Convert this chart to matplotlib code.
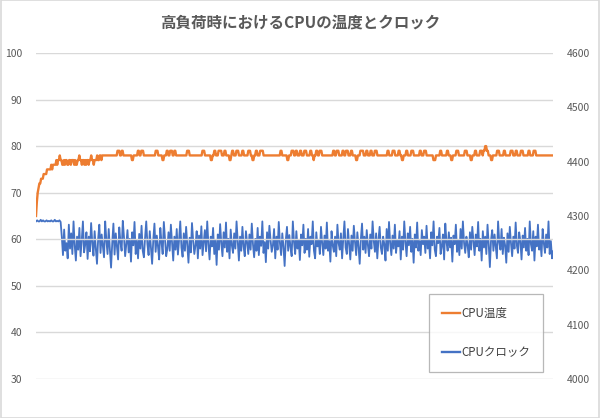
import numpy as np
import matplotlib
matplotlib.use("Agg")
import matplotlib.pyplot as plt

plt.rcParams['font.family'] = ['Noto Sans CJK JP', 'DejaVu Sans']

title = "高負荷時におけるCPUの温度とクロック"
label_temp = "CPU温度"
label_clock = "CPUクロック"

left_ticks = [30, 40, 50, 60, 70, 80, 90, 100]
right_ticks = [4000, 4100, 4200, 4300, 4400, 4500, 4600]

duration_s = 600

temp = [
    65, 68, 70, 71, 72, 72, 73, 73, 73, 74, 74, 74, 74, 75, 75, 75, 75, 75, 76, 75, 76, 76, 76, 76, 77, 76, 77, 77, 78, 77,
    77, 76, 76, 77, 76, 77, 77, 76, 76, 77, 77, 76, 77, 77, 77, 76, 77, 76, 76, 77, 77, 78, 77, 77, 76, 77, 77, 76, 77, 76,
    77, 77, 76, 77, 77, 78, 77, 77, 76, 77, 77, 77, 78, 77, 77, 78, 78, 77, 78, 78, 78, 78, 78, 78, 78, 78, 78, 78, 78, 78,
    78, 78, 78, 78, 78, 78, 79, 79, 79, 78, 78, 79, 79, 78, 78, 78, 78, 78, 78, 78, 78, 78, 78, 77, 77, 78, 78, 78, 78, 78,
    79, 79, 78, 78, 79, 79, 79, 78, 78, 78, 78, 78, 78, 78, 78, 78, 78, 78, 78, 78, 78, 79, 79, 79, 78, 78, 78, 78, 78, 77,
    77, 78, 78, 78, 79, 79, 78, 78, 79, 79, 79, 78, 78, 79, 79, 78, 78, 78, 78, 78, 78, 78, 78, 78, 78, 78, 78, 78, 79, 79,
    79, 78, 78, 78, 78, 78, 78, 78, 78, 78, 78, 78, 78, 78, 78, 78, 79, 79, 79, 78, 78, 78, 78, 78, 78, 78, 77, 77, 78, 78,
    79, 79, 78, 78, 78, 79, 79, 79, 79, 78, 78, 78, 79, 79, 78, 78, 78, 78, 77, 77, 78, 79, 79, 78, 78, 78, 79, 79, 79, 78,
    78, 78, 78, 79, 79, 78, 78, 78, 78, 78, 79, 79, 79, 78, 78, 77, 77, 78, 78, 79, 79, 78, 78, 78, 79, 79, 79, 79, 78, 78,
    78, 78, 78, 78, 78, 78, 78, 78, 78, 78, 78, 78, 78, 78, 78, 78, 78, 78, 79, 79, 78, 78, 78, 78, 78, 78, 77, 77, 78, 78,
    78, 79, 79, 79, 78, 78, 79, 79, 78, 78, 78, 79, 79, 78, 78, 78, 79, 79, 79, 78, 78, 78, 78, 79, 79, 78, 78, 77, 78, 78,
    79, 79, 78, 78, 79, 79, 79, 78, 78, 78, 78, 78, 78, 78, 78, 78, 78, 78, 78, 78, 79, 79, 78, 78, 79, 79, 79, 78, 78, 78,
    78, 79, 79, 78, 78, 79, 79, 79, 78, 78, 78, 79, 79, 78, 78, 78, 78, 77, 77, 78, 78, 78, 79, 79, 79, 79, 78, 78, 78, 79,
    79, 78, 78, 78, 79, 79, 78, 78, 78, 79, 79, 79, 78, 78, 78, 78, 78, 78, 78, 78, 78, 78, 78, 78, 79, 79, 78, 78, 78, 78,
    79, 79, 79, 78, 78, 78, 78, 79, 79, 78, 78, 77, 77, 78, 78, 78, 79, 79, 78, 78, 78, 78, 79, 79, 79, 78, 78, 78, 78, 78,
    78, 78, 79, 79, 78, 78, 78, 79, 79, 79, 78, 78, 78, 78, 78, 78, 78, 78, 77, 77, 77, 78, 78, 78, 78, 78, 79, 79, 78, 78,
    78, 78, 78, 78, 79, 79, 78, 78, 78, 77, 77, 78, 78, 78, 78, 79, 79, 79, 78, 78, 78, 78, 78, 78, 78, 79, 79, 79, 78, 78,
    78, 78, 77, 77, 78, 78, 78, 79, 79, 78, 78, 78, 78, 79, 79, 79, 78, 79, 79, 80, 80, 79, 79, 78, 78, 78, 77, 77, 78, 78,
    78, 78, 78, 79, 79, 79, 78, 78, 78, 78, 78, 79, 79, 78, 78, 78, 78, 78, 78, 79, 79, 79, 78, 78, 78, 79, 79, 78, 78, 78,
    78, 79, 79, 79, 78, 78, 78, 78, 78, 78, 79, 79, 78, 78, 78, 78, 79, 79, 79, 78, 78, 78, 78, 78, 78, 78, 78, 78, 78, 78,
    78, 78, 78, 78, 78, 78, 78, 78, 78, 78,
]

clock = [
    4290, 4292, 4290, 4290, 4293, 4290, 4292, 4290, 4290, 4292, 4290,
    4291, 4290, 4292, 4290, 4290, 4293, 4290, 4291, 4290, 4292, 4289,
    4262, 4228, 4275, 4236, 4250, 4222, 4284, 4240, 4268, 4230, 4290, 4246, 4218, 4262, 4238, 4278, 4226, 4255, 4290, 4233,
    4248, 4270, 4221, 4262, 4235, 4287, 4250, 4227, 4272, 4240, 4212, 4258, 4284, 4232, 4266, 4245, 4224, 4290, 4255, 4230,
    4276, 4238, 4205, 4250, 4286, 4229, 4268, 4244, 4220, 4279, 4252, 4236, 4291, 4262, 4226, 4248, 4274, 4233, 4258, 4216,
    4270, 4246, 4289, 4230, 4255, 4222, 4267, 4240, 4282, 4236, 4224, 4260, 4290, 4248, 4228, 4272, 4242, 4212, 4256, 4286,
    4234, 4264, 4244, 4220, 4278, 4252, 4230, 4289, 4258, 4226, 4240, 4270, 4236, 4284, 4250, 4218, 4262, 4238, 4276, 4229,
    4256, 4290, 4242, 4225, 4268, 4236, 4280, 4248, 4214, 4260, 4233, 4287, 4255, 4230, 4246, 4272, 4222, 4264, 4240, 4281,
    4228, 4252, 4274, 4235, 4290, 4248, 4220, 4262, 4244, 4278, 4230, 4256, 4210, 4266, 4238, 4285, 4250, 4226, 4270, 4242,
    4288, 4234, 4258, 4222, 4275, 4246, 4232, 4268, 4240, 4290, 4254, 4218, 4262, 4236, 4280, 4244, 4226, 4272, 4250, 4230,
    4266, 4238, 4286, 4248, 4224, 4258, 4236, 4278, 4228, 4262, 4245, 4290, 4232, 4252, 4215, 4270, 4240, 4282, 4256, 4234,
    4246, 4276, 4222, 4262, 4238, 4289, 4250, 4228, 4268, 4244, 4208, 4256, 4280, 4236, 4265, 4242, 4226, 4290, 4252, 4230,
    4272, 4240, 4255, 4219, 4266, 4246, 4284, 4232, 4258, 4238, 4276, 4225, 4262, 4248, 4290, 4236, 4222, 4270, 4244, 4256,
    4230, 4280, 4250, 4228, 4264, 4240, 4288, 4236, 4254, 4216, 4272, 4246, 4234, 4262, 4226, 4284, 4250, 4238, 4268, 4222,
    4258, 4290, 4242, 4230, 4276, 4248, 4220, 4264, 4236, 4282, 4252, 4228, 4270, 4244, 4212, 4258, 4286, 4238, 4262, 4232,
    4274, 4246, 4226, 4266, 4240, 4290, 4254, 4234, 4268, 4222, 4256, 4280, 4242, 4230, 4262, 4248, 4218, 4276, 4236, 4289,
    4250, 4228, 4264, 4240, 4284, 4232, 4256, 4244, 4272, 4220, 4262, 4238, 4290, 4252, 4226, 4268, 4246, 4280, 4234, 4258,
    4214, 4266, 4242, 4288, 4236, 4254, 4228, 4274, 4248, 4262, 4232, 4282, 4240, 4256, 4222, 4270, 4246, 4290, 4238, 4226,
    4262, 4250, 4278, 4230, 4244, 4266, 4220, 4286, 4252, 4236, 4270, 4242, 4260, 4216, 4264, 4248, 4284, 4234, 4256, 4228,
    4276, 4240, 4290, 4250, 4232, 4262, 4246, 4224, 4270, 4238, 4280, 4254, 4228, 4266, 4244, 4289, 4236, 4258, 4218, 4272,
    4242, 4262, 4230, 4284, 4248, 4206, 4256, 4274, 4236, 4266, 4244, 4222, 4290, 4252, 4238, 4276, 4230, 4260, 4246, 4214,
    4268, 4234, 4280, 4250, 4226, 4262, 4240, 4288, 4246, 4232, 4270, 4254, 4220, 4264, 4242, 4278, 4236, 4258, 4228, 4290,
    4248, 4236, 4272, 4218, 4262, 4244, 4284, 4238, 4256, 4226, 4276, 4250, 4232, 4266, 4242, 4290, 4230, 4254, 4222, 4235,
]

t_temp = np.linspace(0, duration_s, len(temp))
t_clock = np.linspace(0, duration_s, len(clock))

c_temp = "#ED7D31"
c_clock = "#4472C4"
txt = "#595959"
grid = "#D9D9D9"

fig = plt.figure(figsize=(6.0, 4.18), dpi=100)
fig.patch.set_facecolor("white")
ax = fig.add_axes([0.06, 0.0933, 0.862, 0.78])
ax2 = ax.twinx()

l1, = ax.plot(t_temp, temp, color=c_temp, lw=1.7, label=label_temp)
l2, = ax2.plot(t_clock, clock, color=c_clock, lw=1.3, label=label_clock)

ax.set_xlim(0, duration_s)
ax.set_ylim(30, 100)
ax2.set_ylim(4000, 4600)
ax.set_yticks(left_ticks)
ax2.set_yticks(right_ticks)
ax.set_xticks([])
for a in (ax, ax2):
    for s in a.spines.values():
        s.set_visible(False)
    a.tick_params(axis='y', length=0, labelsize=7.5, labelcolor=txt, pad=10)
ax.yaxis.grid(True, color=grid, lw=1)
ax.set_axisbelow(True)

fig.text(0.5, 0.945, title, ha='center', va='center', fontsize=11.2, color=txt, fontweight='bold')

leg = ax.legend([l1, l2], [label_temp, label_clock], loc='upper left',
                bbox_to_anchor=(0.760, 0.261), fontsize=8.3, frameon=True, fancybox=False,
                labelspacing=2.3, handlelength=1.6, handletextpad=0.1, borderpad=1.1,
                borderaxespad=0)
leg.get_frame().set_edgecolor("#A6A6A6")
leg.get_frame().set_linewidth(0.9)
for t in leg.get_texts():
    t.set_color("#404040")
for h in leg.legend_handles:
    h.set_linewidth(1.7)
leg.set_zorder(5)
ax.set_zorder(ax2.get_zorder() + 1)
ax.patch.set_visible(False)

border = plt.Rectangle((0.001, 0.001), 0.998, 0.998, transform=fig.transFigure,
                       fill=False, edgecolor="#D9D9D9", lw=1.2)
fig.patches.append(border)

fig.savefig("out.png", dpi=100)
